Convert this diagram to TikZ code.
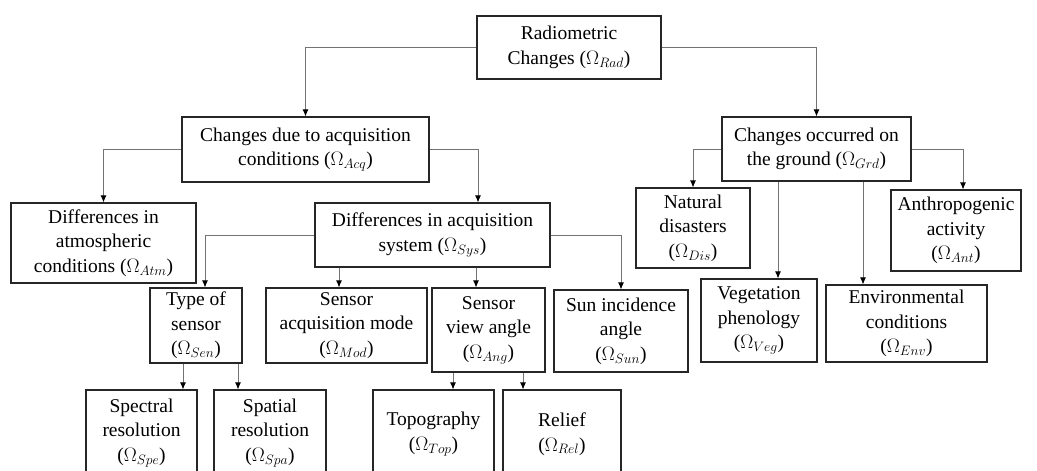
\documentclass[tikz,border=0pt]{standalone}
\usepackage{fix-cm}
\usepackage{fontspec}
\setmainfont{Liberation Serif}
\usetikzlibrary{calc}
\usetikzlibrary{positioning}
\usetikzlibrary{arrows.meta}

\tikzset{
  box/.style={draw=black!85, line width=1.2pt, align=center, inner xsep=1pt, inner ysep=2pt,
    font=\fontsize{19.5}{24.5}\selectfont},
  link/.style={draw=black!55, line width=0.8pt,
    -{Latex[length=7pt, width=6pt, color=black]}},
}

\begin{document}
\begin{tikzpicture}[x=1pt, y=-1pt]
      \useasboundingbox (0,0) rectangle (1037,471);
      \clip (0,0) rectangle (1037,471);

      \node[box, minimum width=184, minimum height=63] (Rad) at (569,47.5) {Radiometric\\Changes ($\Omega_{Rad}$)};
      \node[box, minimum width=247, minimum height=65] (Acq) at (305.5,149.5) {Changes due to acquisition\\conditions ($\Omega_{Acq}$)};
      \node[box, minimum width=189, minimum height=64] (Grd) at (816.5,149) {Changes occurred on\\the ground ($\Omega_{Grd}$)};
      \node[box, minimum width=185, minimum height=80] (Atm) at (103.5,243) {Differences in\\atmospheric\\conditions ($\Omega_{Atm}$)};
      \node[box, minimum width=235, minimum height=64] (Sys) at (432.5,235) {Differences in acquisition\\system ($\Omega_{Sys}$)};
      \node[box, minimum width=114, minimum height=80] (Dis) at (693,228) {Natural\\disasters\\($\Omega_{Dis}$)};
      \node[box, minimum width=130, minimum height=81] (Ant) at (956,230.5) {Anthropogenic\\activity\\($\Omega_{Ant}$)};
      \node[box, minimum width=92, minimum height=75] (Sen) at (196,325.5) {Type of\\sensor\\($\Omega_{Sen}$)};
      \node[box, minimum width=161, minimum height=75] (Mod) at (346.5,325.5) {Sensor\\acquisition mode\\($\Omega_{Mod}$)};
      \node[box, minimum width=113, minimum height=84] (Ang) at (488.5,330) {Sensor\\view angle\\($\Omega_{Ang}$)};
      \node[box, minimum width=134, minimum height=82] (Sun) at (621,331) {Sun incidence\\angle\\($\Omega_{Sun}$)};
      \node[box, minimum width=116, minimum height=83] (Veg) at (759,320.5) {Vegetation\\phenology\\($\Omega_{Veg}$)};
      \node[box, minimum width=161, minimum height=77] (Env) at (906.5,323.5) {Environmental\\conditions\\($\Omega_{Env}$)};
      \node[box, minimum width=111, minimum height=86] (Spe) at (141.5,433) {Spectral\\resolution\\($\Omega_{Spe}$)};
      \node[box, minimum width=112, minimum height=86] (Spa) at (270,433) {Spatial\\resolution\\($\Omega_{Spa}$)};
      \node[box, minimum width=121, minimum height=88] (Top) at (433.5,434) {Topography\\($\Omega_{Top}$)};
      \node[box, minimum width=118, minimum height=88] (Rel) at (562,434) {Relief\\($\Omega_{Rel}$)};

      \draw[link] (Rad.west) -| (Acq.north);
      \draw[link] (Rad.east) -| (Grd.north);
      \draw[link] (Acq.west) -| (Atm.north);
      \draw[link] (Acq.east) -| ([xshift=45.5pt]Sys.north);
      \draw[link] (Sys.west) -| ([xshift=9pt]Sen.north);
      \draw[link] ([xshift=-7.5pt]Mod.north |- Sys.south) -- ([xshift=-7.5pt]Mod.north);
      \draw[link] ([xshift=-12.5pt]Ang.north |- Sys.south) -- ([xshift=-12.5pt]Ang.north);
      \draw[link] (Sys.east) -| (Sun.north);
      \draw[link] ([xshift=-13pt]Sen.south) -- ([xshift=-13pt]Sen.south |- Spe.north);
      \draw[link] ([xshift=42pt]Sen.south) -- ([xshift=42pt]Sen.south |- Spa.north);
      \draw[link] ([xshift=-35.5pt]Ang.south) -- ([xshift=-35.5pt]Ang.south |- Top.north);
      \draw[link] ([xshift=34.5pt]Ang.south) -- ([xshift=34.5pt]Ang.south |- Rel.north);
      \draw[link] (Grd.west) -| (Dis.north);
      \draw[link] (Grd.east) -| ([xshift=7pt]Ant.north);
      \draw[link] ([xshift=-38.5pt]Grd.south) -- ([xshift=-38.5pt]Grd.south |- Veg.north);
      \draw[link] ([xshift=46.5pt]Grd.south) -- ([xshift=46.5pt]Grd.south |- Env.north);
    \end{tikzpicture}
\end{document}
